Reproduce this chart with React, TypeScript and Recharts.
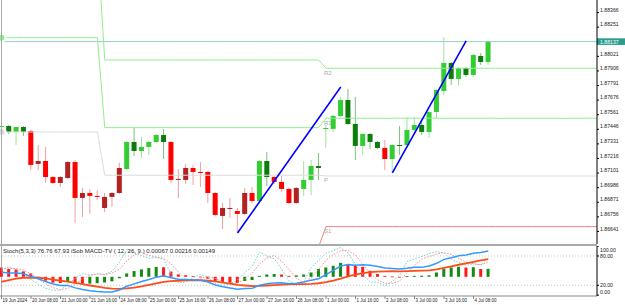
import React from 'react';
import { ComposedChart, Bar, Line, XAxis, YAxis, ReferenceLine, ReferenceDot } from 'recharts';

// ---------- price data (H4 bars, 19 Jun 16:00 .. 4 Jul 16:00) ----------
const opens = [1.87464, 1.87472, 1.87425, 1.87464, 1.87433, 1.87173, 1.87196, 1.87070, 1.87023, 1.87062,
  1.87188, 1.86905, 1.86944, 1.86921, 1.86826, 1.86913, 1.86944, 1.87133, 1.87346, 1.87275,
  1.87307, 1.87346, 1.87401, 1.87346, 1.87047, 1.87047, 1.87141, 1.87110, 1.87110, 1.86944,
  1.86763, 1.86818, 1.86802, 1.86779, 1.86944, 1.86881, 1.87196, 1.87070, 1.87031, 1.86976,
  1.86865, 1.86976, 1.87047, 1.87157, 1.87449, 1.87449, 1.87551, 1.87677, 1.87488, 1.87315,
  1.87409, 1.87346, 1.87299, 1.87212, 1.87322, 1.87322, 1.87441, 1.87480, 1.87425, 1.87582,
  1.87748, 1.87969, 1.87843, 1.87929, 1.87874, 1.88024, 1.87976];
const highs = [1.87488, 1.87480, 1.87464, 1.87472, 1.87441, 1.87322, 1.87307, 1.87078, 1.87078, 1.87196,
  1.87204, 1.86984, 1.86976, 1.86968, 1.86944, 1.86952, 1.87181, 1.87354, 1.87464, 1.87385,
  1.87354, 1.87409, 1.87449, 1.87354, 1.87133, 1.87173, 1.87165, 1.87188, 1.87118, 1.86952,
  1.86865, 1.86905, 1.86826, 1.86984, 1.86991, 1.87204, 1.87267, 1.87078, 1.87078, 1.86984,
  1.86991, 1.87196, 1.87204, 1.87259, 1.87480, 1.87559, 1.87701, 1.87764, 1.87701, 1.87417,
  1.87417, 1.87354, 1.87362, 1.87330, 1.87472, 1.87543, 1.87543, 1.87519, 1.87590, 1.87764,
  1.88173, 1.87976, 1.87937, 1.87937, 1.88040, 1.88047, 1.88142];
const lows = [1.87456, 1.87409, 1.87322, 1.87393, 1.87125, 1.87125, 1.87023, 1.87015, 1.86991, 1.87055,
  1.86708, 1.86755, 1.86779, 1.86889, 1.86794, 1.86834, 1.86936, 1.87125, 1.87236, 1.87220,
  1.87244, 1.87338, 1.87212, 1.87023, 1.86905, 1.87015, 1.87007, 1.86991, 1.86865, 1.86763,
  1.86661, 1.86747, 1.86629, 1.86771, 1.86865, 1.86873, 1.86999, 1.87015, 1.86952, 1.86858,
  1.86858, 1.86921, 1.86928, 1.87047, 1.87299, 1.87425, 1.87543, 1.87480, 1.87204, 1.87244,
  1.87291, 1.87291, 1.87125, 1.87102, 1.87244, 1.87315, 1.87417, 1.87401, 1.87378, 1.87535,
  1.87716, 1.87795, 1.87787, 1.87858, 1.87858, 1.87953, 1.87953];
const closes = [1.87472, 1.87425, 1.87464, 1.87425, 1.87165, 1.87196, 1.87070, 1.87023, 1.87070, 1.87188,
  1.86905, 1.86944, 1.86921, 1.86913, 1.86913, 1.86944, 1.87141, 1.87346, 1.87275, 1.87307,
  1.87346, 1.87401, 1.87346, 1.87047, 1.87055, 1.87141, 1.87110, 1.87102, 1.86944, 1.86771,
  1.86826, 1.86826, 1.86779, 1.86944, 1.86881, 1.87196, 1.87070, 1.87031, 1.86976, 1.86865,
  1.86984, 1.87047, 1.87157, 1.87141, 1.87456, 1.87551, 1.87677, 1.87488, 1.87315, 1.87409,
  1.87346, 1.87299, 1.87212, 1.87322, 1.87315, 1.87441, 1.87480, 1.87425, 1.87582, 1.87756,
  1.87969, 1.87843, 1.87929, 1.87874, 1.88032, 1.87976, 1.88137];
// trend state of the candle-colouring indicator (u = up, d = down)
const trend = 'uuuuddddddddddddduuuuuudddddddddddduudddduuuuuuuuuuuduuuuuuuuuuuuuu';

// ---------- weekly pivots ----------
const weekStart = [0, 14, 44];
const pivR2 = [1.88919, 1.87992, 1.87927];
const pivR1 = [1.88168, 1.87459, 1.87533];
const pivP = [1.87425, 1.87084, 1.87078];
const pivS1 = [1.86300, 1.86520, 1.86679];
const pivNames = ['R2', 'R1', 'P', 'S1'];

const bidPrice = 1.88137;
// trend lines: [bar, price] pairs
const trendLines = [
  [[32, 1.86629], [46, 1.87779]],
  [[53, 1.87102], [63, 1.88142]],
];

// ---------- oscillators ----------
const stochK = [51, 58, 52, 44, 32, 22, 14, 10, 10, 23, 34, 44, 41, 44, 42, 49, 67, 93, 86, 81,
  75, 77, 73, 43, 25, 27, 36, 42, 37, 24, 20, 23, 31, 46, 59, 88, 80, 74, 53, 29,
  20, 28, 56, 71, 86, 91, 97, 86, 63, 41, 27, 26, 19, 28, 41, 69, 74, 79, 85, 89,
  86, 73, 67, 61, 64, 62, 76.76];
const stochD = [55, 55, 54, 51, 43, 33, 23, 15, 11, 14, 22, 34, 40, 43, 42, 45, 53, 70, 82, 87,
  81, 78, 75, 64, 47, 32, 29, 35, 38, 34, 27, 22, 25, 33, 45, 64, 76, 81, 69, 52,
  34, 26, 35, 52, 71, 83, 91, 91, 82, 63, 44, 31, 24, 24, 29, 46, 61, 74, 79, 84,
  87, 83, 75, 67, 64, 62, 67.93];
const macdMain = [0.00038, 0.00032, 0.00031, 0.00026, 0.00002, -0.00016, -0.00039, -0.00060, -0.00072, -0.00072,
  -0.00093, -0.00106, -0.00116, -0.00123, -0.00128, -0.00127, -0.00110, -0.00079, -0.00059, -0.00040,
  -0.00023, -0.00003, 0.00008, -0.00008, -0.00020, -0.00022, -0.00026, -0.00029, -0.00044, -0.00069,
  -0.00083, -0.00093, -0.00104, -0.00098, -0.00097, -0.00070, -0.00059, -0.00052, -0.00050, -0.00058,
  -0.00053, -0.00044, -0.00028, -0.00016, 0.00019, 0.00054, 0.00090, 0.00102, 0.00097, 0.00100,
  0.00096, 0.00087, 0.00073, 0.00070, 0.00065, 0.00071, 0.00079, 0.00079, 0.00091, 0.00113,
  0.00146, 0.00160, 0.00176, 0.00183, 0.00198, 0.00204, 0.00216];
const macdSignal = [-0.00043, -0.00028, -0.00016, -0.00008, -0.00006, -0.00008, -0.00014, -0.00023, -0.00033, -0.00041,
  -0.00051, -0.00062, -0.00073, -0.00083, -0.00092, -0.00099, -0.00101, -0.00097, -0.00090, -0.00080,
  -0.00068, -0.00055, -0.00043, -0.00036, -0.00033, -0.00030, -0.00029, -0.00029, -0.00033, -0.00039,
  -0.00049, -0.00057, -0.00067, -0.00073, -0.00078, -0.00076, -0.00073, -0.00069, -0.00065, -0.00064,
  -0.00061, -0.00061, -0.00059, -0.00054, -0.00045, -0.00032, -0.00015, 0.00004, 0.00018, 0.00031,
  0.00039, 0.00044, 0.00046, 0.00047, 0.00046, 0.00047, 0.00049, 0.00051, 0.00054, 0.00062,
  0.00075, 0.00088, 0.00101, 0.00113, 0.00126, 0.00137, 0.00149];
const macdHist = [0.00077, 0.00065, 0.00062, 0.00045, 0.00029, -0.00010, -0.00033, -0.00049, -0.00052, -0.00041,
  -0.00055, -0.00058, -0.00057, -0.00054, -0.00048, -0.00038, -0.00012, 0.00028, 0.00048, 0.00062,
  0.00073, 0.00083, 0.00080, 0.00044, 0.00020, 0.00013, 0.00006, 0.00001, -0.00016, -0.00040,
  -0.00048, -0.00050, -0.00052, -0.00035, -0.00027, 0.00008, 0.00019, 0.00023, 0.00019, 0.00008,
  0.00012, 0.00019, 0.00036, 0.00065, 0.00078, 0.00092, 0.00117, 0.00106, 0.00092, 0.00084,
  0.00050, 0.00023, 0.00008, 0.00003, -0.00004, 0.00005, 0.00008, 0.00009, 0.00012, 0.00036,
  0.00065, 0.00078, 0.00084, 0.00078, 0.00080, 0.00065, 0.00067];

// ---------- axis labels ----------
const dateLabels = ['19 Jun 2024', '20 Jun 08:00', '21 Jun 00:00', '21 Jun 16:00', '24 Jun 08:00', '25 Jun 00:00',
  '25 Jun 16:00', '26 Jun 08:00', '27 Jun 00:00', '27 Jun 16:00', '28 Jun 08:00', '1 Jul 00:00',
  '1 Jul 16:00', '2 Jul 08:00', '3 Jul 00:00', '3 Jul 16:00', '4 Jul 08:00'];
const barsPerLabel = 4;
const priceTicks = [1.86641, 1.86756, 1.86871, 1.86986, 1.87101, 1.87216, 1.87331, 1.87446, 1.87561,
  1.87676, 1.87791, 1.87906, 1.88021, 1.88251, 1.88366];
const oscTicks = [0, 20, 80, 100];
const oscLevels = [80, 20];
const headerText = 'Stoch(5,3,3) 76.76 67.93 iSob MACD-TV ( 12, 26, 9 ) 0.00067 0.00216 0.00149';

// ---------- derived tables ----------
const totalSlots = 82;
const weekOf = (i: number) => {
  let w = 0;
  for (let k = 0; k < weekStart.length; k++) if (i >= weekStart[k]) w = k;
  return w;
};
const rows = Array.from({ length: totalSlots }, (_, i) => {
  const w = weekOf(i);
  const has = i < opens.length;
  const up = has && closes[i] >= opens[i];
  const t = has ? trend[i] : '';
  return {
    i,
    open: has ? opens[i] : null,
    high: has ? highs[i] : null,
    low: has ? lows[i] : null,
    close: has ? closes[i] : null,
    tone: has ? (t === 'u' ? (up ? 'G' : 'g') : (up ? 'r' : 'R')) : null,
    r2: pivR2[w], r1: pivR1[w], p: pivP[w], s1: pivS1[w],
  };
});
const oscRows = opens.map((_, i) => ({
  i,
  k: stochK[i], d: stochD[i],
  macd: macdMain[i], sig: macdSignal[i], hist: macdHist[i],
  rising: i === 0 ? false : macdHist[i] > macdHist[i - 1],
}));

const X_DOMAIN: [number, number] = [-0.2034, 80.7457];
const FONT = '"Liberation Sans", Arial, sans-serif';

const palette: Record<string, { body: string; wick: string }> = {
  G: { body: '#32cd32', wick: '#9fe29f' },
  g: { body: '#0b7d0b', wick: '#7fbf7f' },
  R: { body: '#ff0000', wick: '#ff9c9c' },
  r: { body: '#b22222', wick: '#e3a0a0' },
};

const CandleShape = (props: any) => {
  const { x, y, width, height, payload } = props;
  if (!payload || payload.open == null) return null;
  const { open, close, high, low, tone } = payload;
  const top = Math.min(y, y + height);
  const h = Math.abs(height);
  const span = high - low || 1e-9;
  const py = (v: number) => top + ((high - v) / span) * h;
  const cx = x + width / 2;
  const yo = py(open);
  const yc = py(close);
  const bTop = Math.min(yo, yc);
  const bH = Math.max(1, Math.abs(yo - yc));
  const c = palette[tone];
  return (
    <g>
      <line x1={cx} x2={cx} y1={top} y2={top + h} stroke={c.wick} strokeWidth={1} />
      <rect x={cx - 2.5} y={bTop} width={5} height={bH} fill={c.body} />
    </g>
  );
};

const HistShape = (props: any) => {
  const { x, y, width, height, payload } = props;
  const top = Math.min(y, y + height);
  const h = Math.max(0.8, Math.abs(height));
  return <rect x={x} y={top} width={width} height={h} fill={payload.rising ? '#138a13' : '#ff1a1a'} />;
};

const PriceTick = (props: any) => {
  const { x, y, payload } = props;
  return (
    <text x={x} y={y - 2.6} dy={1.8} fontSize={5.2} fontFamily={FONT} fill="#222" textAnchor="start">
      {payload.value.toFixed(5)}
    </text>
  );
};

const OscTick = (props: any) => {
  const { x, y, payload } = props;
  const yy = Math.min(46.5, Math.max(4, y));
  return (
    <text x={x} y={yy} dy={1.8} fontSize={5.2} fontFamily={FONT} fill="#222" textAnchor="start">
      {payload.value.toFixed(2)}
    </text>
  );
};

const DateTick = (props: any) => {
  const { x, y, payload } = props;
  const idx = Math.round(payload.value / barsPerLabel);
  return (
    <text x={x + 1} y={y + 3.2} fontSize={4.5} fontFamily={FONT} fill="#222" textAnchor="start">
      {dateLabels[idx]}
    </text>
  );
};

const pivotLabel = (name: string) => (p: any) => {
  const vb = p.viewBox || {};
  return (
    <text x={vb.x - 2} y={vb.y + 6.5} fontSize={6} fontFamily={FONT} fill="#a8a8a8">
      {name}
    </text>
  );
};

const bidLabel = (p: any) => {
  const vb = p.viewBox || {};
  const right = vb.x + vb.width;
  return (
    <g>
      <rect x={right} y={vb.y - 3.3} width={28} height={6.6} fill="#2a9d8f" />
      <text x={right + 3} y={vb.y + 1.9} fontSize={5.2} fontFamily={FONT} fill="#ffffff">
        {bidPrice.toFixed(5)}
      </text>
    </g>
  );
};

export default function App() {
  const lastWeek = weekStart.length - 1;
  const pivotSets = [pivR2, pivR1, pivP, pivS1];
  return (
    <div style={{ position: 'fixed', left: 0, top: 0, width: 625, height: 305, background: '#fff', overflow: 'hidden' }}>
      <div style={{ position: 'absolute', left: 0, top: 0 }}>
        <ComposedChart width={625} height={244} data={rows} margin={{ top: 0, right: 0, left: 0, bottom: 0 }}>
          <XAxis xAxisId="x" type="number" dataKey="i" domain={X_DOMAIN} allowDataOverflow hide />
          <YAxis yAxisId="p" orientation="right" width={28} domain={[1.86542, 1.88465]} allowDataOverflow
            ticks={priceTicks} interval={0} tick={<PriceTick />} tickSize={2} tickMargin={1}
            axisLine={{ stroke: '#000' }} tickLine={{ stroke: '#000' }} />
          <Line xAxisId="x" yAxisId="p" dataKey="r2" stroke="#90ee90" strokeWidth={1} dot={false} isAnimationActive={false} />
          <Line xAxisId="x" yAxisId="p" dataKey="r1" stroke="#90ee90" strokeWidth={1} dot={false} isAnimationActive={false} />
          <Line xAxisId="x" yAxisId="p" dataKey="p" stroke="#dcdcdc" strokeWidth={1} dot={false} isAnimationActive={false} />
          <Line xAxisId="x" yAxisId="p" dataKey="s1" stroke="#f08080" strokeWidth={1} dot={false} isAnimationActive={false} />
          <ReferenceLine xAxisId="x" yAxisId="p" y={bidPrice} stroke="#8fd3ca" strokeWidth={1} label={bidLabel} />
          <Bar xAxisId="x" yAxisId="p" dataKey={(d: any) => (d.high == null ? null : [d.low, d.high])}
            barSize={5} shape={<CandleShape />} isAnimationActive={false} />
          {trendLines.map((seg, k) => (
            <ReferenceLine key={k} xAxisId="x" yAxisId="p" stroke="#0000ff" strokeWidth={1.6}
              segment={[{ x: seg[0][0], y: seg[0][1] }, { x: seg[1][0], y: seg[1][1] }]} />
          ))}
          {pivotSets.map((set, k) => (
            <ReferenceDot key={k} xAxisId="x" yAxisId="p" x={weekStart[lastWeek]} y={set[lastWeek]} r={0}
              fill="none" stroke="none" label={pivotLabel(pivNames[k])} />
          ))}
        </ComposedChart>
      </div>
      <div style={{ position: 'absolute', left: 0, top: 244, width: 597, height: 2, background: '#a9a9a9' }} />
      <div style={{ position: 'absolute', left: 1, top: 0, width: 1, height: 296, background: '#a9a9a9' }} />
      <div style={{ position: 'absolute', left: 0, top: 246 }}>
        <ComposedChart width={625} height={59} data={oscRows} margin={{ top: 0, right: 0, left: 0, bottom: 0 }}>
          <XAxis xAxisId="x" type="number" dataKey="i" domain={X_DOMAIN} allowDataOverflow
            ticks={dateLabels.map((_, k) => k * barsPerLabel)} interval={0} tick={<DateTick />}
            tickSize={3} tickMargin={0} height={9} axisLine={{ stroke: '#888' }} tickLine={{ stroke: '#888' }} />
          <YAxis yAxisId="s" orientation="right" width={28} domain={[-1.84, 100.4]} allowDataOverflow
            ticks={oscTicks} interval={0} tick={<OscTick />} tickSize={2} tickMargin={1}
            axisLine={{ stroke: '#000' }} tickLine={{ stroke: '#000' }} />
          <YAxis yAxisId="m" hide domain={[-0.001609, 0.002581]} allowDataOverflow />
          {oscLevels.map((lv) => (
            <ReferenceLine key={lv} xAxisId="x" yAxisId="s" y={lv} stroke="#c8c8c8" strokeDasharray="1 2" />
          ))}
          <Bar xAxisId="x" yAxisId="m" dataKey="hist" barSize={3} shape={<HistShape />} isAnimationActive={false} />
          <Line xAxisId="x" yAxisId="s" dataKey="k" stroke="#66d9d9" strokeWidth={1} strokeDasharray="1.5 1.5" dot={false} isAnimationActive={false} />
          <Line xAxisId="x" yAxisId="s" dataKey="d" stroke="#ff8c8c" strokeWidth={1} strokeDasharray="1.5 1.5" dot={false} isAnimationActive={false} />
          <Line xAxisId="x" yAxisId="m" dataKey="sig" stroke="#ff4d1a" strokeWidth={1.8} dot={false} isAnimationActive={false} />
          <Line xAxisId="x" yAxisId="m" dataKey="macd" stroke="#3399ff" strokeWidth={1.5} dot={false} isAnimationActive={false} />
        </ComposedChart>
      </div>
      <svg style={{ position: 'absolute', left: 0, top: 246 }} width={300} height={10}>
        <text x={3} y={6.8} fontSize={5.4} fontFamily={FONT} fill="#222" textLength={212} lengthAdjust="spacingAndGlyphs">
          {headerText}
        </text>
      </svg>
    </div>
  );
}
